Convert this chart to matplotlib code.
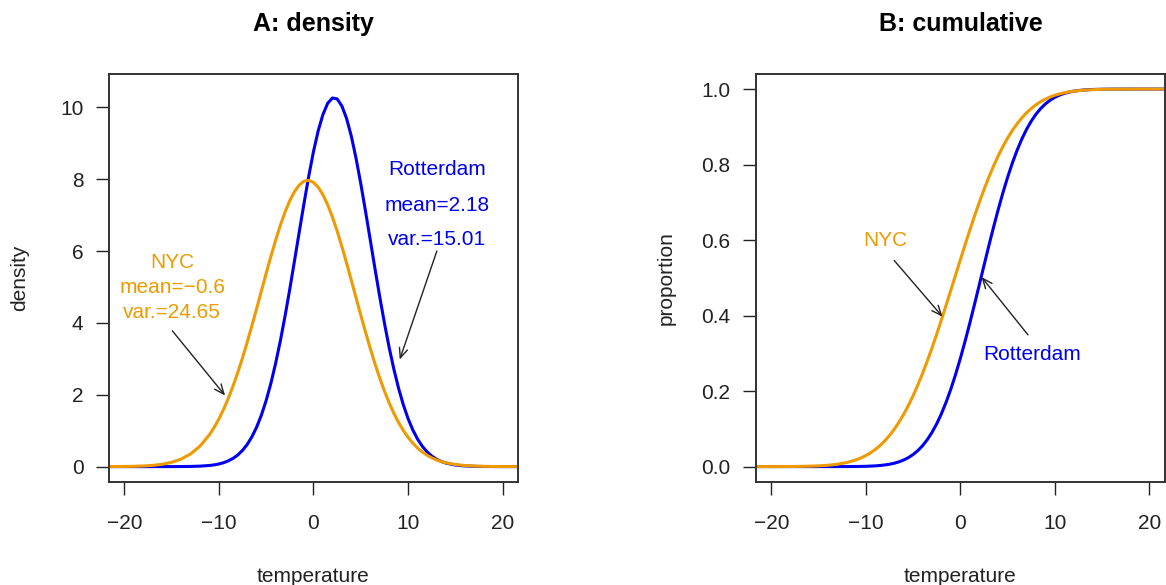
import matplotlib.pyplot as plt

plt.rcParams['font.family'] = ['Liberation Sans', 'DejaVu Sans']

# temperature grid (x), finer in the middle where the curves bend
temperature = [-22, -21, -20, -19, -18, -17, -16, -15, -14, -13, -12, -11,
               -10.5, -10, -9.5, -9, -8.5, -8, -7.5, -7, -6.5, -6, -5.5, -5,
               -4.5, -4, -3.5, -3, -2.5, -2, -1.5, -1, -0.5, 0, 0.5, 1, 1.5,
               2, 2.5, 3, 3.5, 4, 4.5, 5, 5.5, 6, 6.5, 7, 7.5, 8, 8.5, 9, 9.5,
               10, 10.5, 11, 11.5, 12, 12.5, 13, 13.5,
               14, 15, 16, 17, 18, 19, 20, 21, 22]

# A: density curves
dens_rotterdam = [0, 0, 0, 0, 0, 0, 0, 0, 0.002, 0.005, 0.013, 0.031,
                  0.048, 0.073, 0.109, 0.160, 0.230, 0.325, 0.453, 0.620,
                  0.835, 1.106, 1.440, 1.845, 2.323, 2.879, 3.506, 4.20,
                  4.951, 5.74, 6.541, 7.33, 8.085, 8.77, 9.349, 9.80, 10.113,
                  10.26, 10.235, 10.04, 9.691, 9.20, 8.585, 7.88, 7.114, 6.32,
                  5.515, 4.74, 4.001, 3.32, 2.714, 2.18, 1.723, 1.34, 1.024,
                  0.770, 0.569, 0.414, 0.296, 0.208, 0.144,
                  0.098, 0.043, 0.018, 0.007, 0.002, 0.001, 0, 0, 0]
dens_nyc = [0.001, 0.002, 0.004, 0.008, 0.017, 0.034, 0.065, 0.119, 0.209,
            0.352, 0.571, 0.889,
            1.092, 1.328, 1.599, 1.905, 2.248, 2.625, 3.034, 3.472, 3.934,
            4.411, 4.898, 5.381, 5.855, 6.304, 6.720, 7.091, 7.407, 7.659,
            7.840, 7.944, 7.968, 7.912, 7.777, 7.567, 7.288, 6.949, 6.559,
            6.128, 5.668, 5.188, 4.702, 4.219, 3.747, 3.294, 2.867, 2.470,
            2.106, 1.778, 1.486, 1.229, 1.006, 0.816, 0.655, 0.520, 0.409,
            0.318, 0.245, 0.187, 0.141,
            0.106, 0.057, 0.030, 0.015, 0.007, 0.003, 0.001, 0.001, 0]

# B: cumulative proportions
cum_rotterdam = [0, 0, 0, 0, 0, 0, 0, 0, 0, 0, 0.0001, 0.0003,
                 0.0005, 0.0008, 0.0013, 0.0019, 0.0029, 0.0043, 0.0062,
                 0.0089, 0.0125, 0.0174, 0.0237, 0.0320, 0.0423, 0.0553,
                 0.0713, 0.0906, 0.1135, 0.1403, 0.1711, 0.2059, 0.2446,
                 0.2868, 0.3323, 0.3803, 0.4303, 0.4815, 0.5329, 0.5839,
                 0.6333, 0.6807, 0.7254, 0.7667, 0.8043, 0.8379, 0.8676,
                 0.8933, 0.9151, 0.9335, 0.9486, 0.9608, 0.9706, 0.9782,
                 0.9841, 0.9886, 0.9919, 0.9944, 0.9961, 0.9974, 0.9983,
                 0.9989, 0.9995, 0.9998, 0.9999, 1, 1, 1, 1, 1]
cum_nyc = [0, 0, 0, 0.0001, 0.0002, 0.0005, 0.0010, 0.0019, 0.0035, 0.0063,
           0.0108, 0.0181,
           0.0231, 0.0292, 0.0365, 0.0453, 0.0558, 0.0680, 0.0823, 0.0987,
           0.1174, 0.1384, 0.1618, 0.1877, 0.2161, 0.2468, 0.2796, 0.3144,
           0.3510, 0.3890, 0.4281, 0.4679, 0.5080, 0.5481, 0.5877, 0.6264,
           0.6639, 0.6998, 0.7338, 0.7658, 0.7955, 0.8229, 0.8478, 0.8704,
           0.8904, 0.9081, 0.9236, 0.9371, 0.9486, 0.9584, 0.9666, 0.9734,
           0.9790, 0.9836, 0.9873, 0.9903, 0.9926, 0.9944, 0.9958, 0.9969,
           0.9977,
           0.9984, 0.9992, 0.9996, 0.9998, 0.9999, 1, 1, 1, 1]

blue = '#0000EE'
orange = '#EE9A00'

fig = plt.figure(figsize=(11.66, 5.85), dpi=100)
ax1 = fig.add_axes([0.0937, 0.1766, 0.3503, 0.697])
ax2 = fig.add_axes([0.6485, 0.1766, 0.3503, 0.697])


def style_axes(ax, yticks, ylabels, ylim, ylab, title):
    ax.set_xlim(-21.6, 21.6)
    ax.set_ylim(*ylim)
    ax.set_xticks([-20, -10, 0, 10, 20])
    ax.set_xticklabels(['\u221220', '\u221210', '0', '10', '20'])
    ax.set_yticks(yticks)
    ax.set_yticklabels(ylabels)
    ax.tick_params(direction='out', length=9.5, width=1.0, labelsize=15,
                   color='#222222', labelcolor='#222222')
    ax.tick_params(axis='x', pad=14)
    ax.tick_params(axis='y', pad=9)
    for s in ax.spines.values():
        s.set_linewidth(1.4)
        s.set_color('#333333')
    ax.set_xlabel('temperature', fontsize=15, labelpad=24, color='#222222')
    ax.set_ylabel(ylab, fontsize=15, color='#222222')
    ax.yaxis.set_label_coords(-0.197, 0.5)
    ax.set_title(title, fontsize=18, fontweight='bold', pad=31)


# Panel A
ax1.plot(temperature, dens_rotterdam, color=blue, lw=2.2)
ax1.plot(temperature, dens_nyc, color=orange, lw=2.2)
style_axes(ax1, [0, 2, 4, 6, 8, 10], ['0', '2', '4', '6', '8', '10'],
           (-0.42, 10.93), 'density', 'A: density')
ax1.text(13.05, 8.28, 'Rotterdam', color=blue, fontsize=15, ha='center', va='center')
ax1.text(13.05, 7.28, 'mean=2.18', color=blue, fontsize=15, ha='center', va='center')
ax1.text(13.05, 6.31, 'var.=15.01', color=blue, fontsize=15, ha='center', va='center')
ax1.text(-14.93, 5.68, 'NYC', color=orange, fontsize=15, ha='center', va='center')
ax1.text(-14.93, 4.98, 'mean=\u22120.6', color=orange, fontsize=15, ha='center', va='center')
ax1.text(-14.93, 4.30, 'var.=24.65', color=orange, fontsize=15, ha='center', va='center')
arrow = dict(arrowstyle='->,head_length=0.7,head_width=0.3', color='#222222', lw=1.0,
             shrinkA=0, shrinkB=0)
ax1.annotate('', xy=(-9.35, 1.98), xytext=(-14.93, 3.78), arrowprops=arrow)
ax1.annotate('', xy=(9.12, 2.98), xytext=(13.05, 6.0), arrowprops=arrow)

# Panel B
ax2.plot(temperature, cum_rotterdam, color=blue, lw=2.2)
ax2.plot(temperature, cum_nyc, color=orange, lw=2.2)
style_axes(ax2, [0, 0.2, 0.4, 0.6, 0.8, 1.0],
           ['0.0', '0.2', '0.4', '0.6', '0.8', '1.0'],
           (-0.04, 1.04), 'proportion', 'B: cumulative')
ax2.text(-7.98, 0.598, 'NYC', color=orange, fontsize=15, ha='center', va='center')
ax2.text(7.55, 0.298, 'Rotterdam', color=blue, fontsize=15, ha='center', va='center')
ax2.annotate('', xy=(-1.89, 0.397), xytext=(-7.0, 0.546), arrowprops=arrow)
ax2.annotate('', xy=(2.24, 0.502), xytext=(7.15, 0.349), arrowprops=arrow)

fig.savefig('out.png', dpi=100)
